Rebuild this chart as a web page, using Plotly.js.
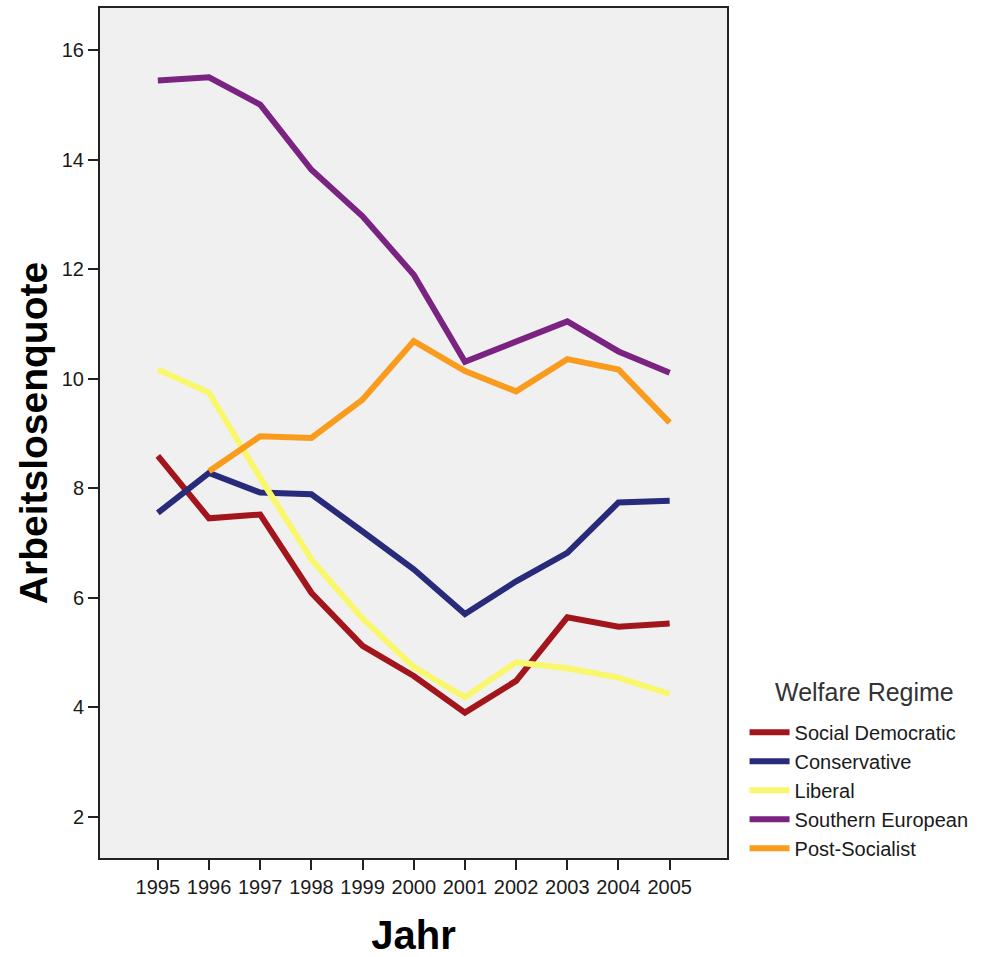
<!DOCTYPE html>
<html>
<head>
<meta charset="utf-8">
<script src="https://cdn.plot.ly/plotly-3.0.1.min.js"></script>
<style>html,body{margin:0;padding:0;background:#fff;}#chart{width:985px;height:957px;}</style>
</head>
<body>
<div id="chart"></div>
<script>
var years = [1995, 1996, 1997, 1998, 1999, 2000, 2001, 2002, 2003, 2004, 2005];
var seriesNames = ["Social Democratic", "Conservative", "Liberal", "Southern European", "Post-Socialist"];
var socialDemocratic = [8.59, 7.45, 7.52, 6.09, 5.12, 4.57, 3.90, 4.48, 5.64, 5.47, 5.53];
var conservative = [7.55, 8.28, 7.92, 7.89, 7.21, 6.52, 5.70, 6.30, 6.82, 7.74, 7.77];
var liberal = [10.17, 9.75, 8.19, 6.70, 5.62, 4.73, 4.18, 4.82, 4.71, 4.54, 4.24];
var southernEuropean = [15.45, 15.51, 15.01, 13.82, 12.97, 11.90, 10.31, 10.69, 11.05, 10.50, 10.11];
var postSocialist = [null, 8.31, 8.95, 8.92, 9.62, 10.69, 10.14, 9.77, 10.36, 10.17, 9.20];
var yTicks = [2, 4, 6, 8, 10, 12, 14, 16];
var legendTitle = "Welfare Regime";

var colors = ["#a3151c", "#282a7a", "#f9f76c", "#7a2381", "#f99c1e"];
var allSeries = [socialDemocratic, conservative, liberal, southernEuropean, postSocialist];

var font = "Liberation Sans, Arial, sans-serif";
var traces = allSeries.map(function (vals, i) {
  return {
    x: years, y: vals, name: seriesNames[i], type: "scatter", mode: "lines",
    line: {color: colors[i], width: 6}, connectgaps: false
  };
});

var layout = {
  width: 985, height: 957,
  margin: {l: 100, r: 258, t: 8, b: 99},
  paper_bgcolor: "#ffffff",
  plot_bgcolor: "#f0f0f0",
  font: {family: font, color: "#1a1a1a"},
  showlegend: true,
  legend: {
    x: 1.028, y: 0.171, xanchor: "left", yanchor: "top",
    font: {family: font, size: 20, color: "#1a1a1a"},
    bgcolor: "rgba(0,0,0,0)", tracegroupgap: 0, itemwidth: 40
  },
  annotations: [{
    text: legendTitle, xref: "paper", yref: "paper",
    x: 1.22, y: 0.195, xanchor: "center", yanchor: "middle", showarrow: false,
    font: {family: font, size: 25, color: "#333"}
  }],
  xaxis: {
    range: [1993.87, 2006.12],
    tickmode: "array", tickvals: years, ticktext: years.map(String),
    ticks: "outside", ticklen: 10, tickwidth: 2, tickcolor: "#222",
    showline: true, mirror: true, linecolor: "#222", linewidth: 2,
    showgrid: false, zeroline: false,
    tickfont: {family: font, size: 20, color: "#1a1a1a"},
    title: {text: "<b>Jahr</b>", font: {family: font, size: 40, color: "#000"}, standoff: 30}
  },
  yaxis: {
    range: [1.243, 16.776],
    tickmode: "array", tickvals: yTicks, ticktext: yTicks.map(String),
    ticks: "outside", ticklen: 10, tickwidth: 2, tickcolor: "#222",
    showline: true, mirror: true, linecolor: "#222", linewidth: 2,
    showgrid: false, zeroline: false,
    tickfont: {family: font, size: 20, color: "#1a1a1a"},
    title: {text: "<b>Arbeitslosenquote</b>", font: {family: font, size: 39, color: "#000"}, standoff: 2}
  }
};

Plotly.newPlot("chart", traces, layout, {displayModeBar: false, staticPlot: true});
</script>
</body>
</html>
